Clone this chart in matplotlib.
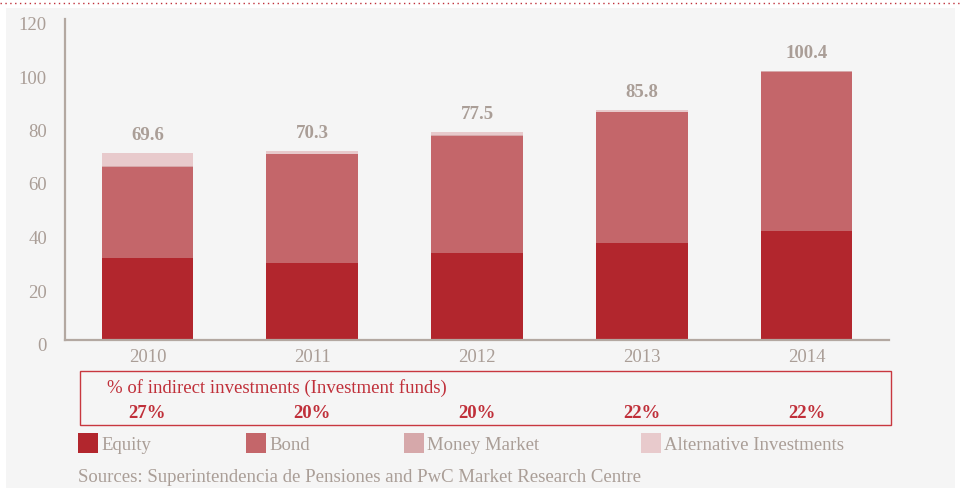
import matplotlib.pyplot as plt
import matplotlib.transforms as mtransforms
from matplotlib.patches import Rectangle
import numpy as np

years = ['2010', '2011', '2012', '2013', '2014']
equity = [30.6, 28.6, 32.3, 36.2, 40.6]
bond = [33.9, 40.7, 43.8, 48.8, 59.4]
money_market = [0.2, 0.2, 0.2, 0.2, 0.2]
alternative = [4.9, 0.8, 1.2, 0.6, 0.2]
totals = ['69.6', '70.3', '77.5', '85.8', '100.4']
indirect_pct = ['27%', '20%', '20%', '22%', '22%']

series_names = ['Equity', 'Bond', 'Money Market', 'Alternative Investments']
colors = ['#b2262d', '#c4666a', '#d6a8aa', '#e8cacc']
gray = '#aa9e97'
red_text = '#c0303a'
fs = 13.5

plt.rcParams['font.family'] = ['Liberation Serif', 'DejaVu Serif']

W, H = 962, 488
fig = plt.figure(figsize=(W / 100, H / 100), dpi=100)
fig.patch.set_facecolor('white')

# grey panel and dotted rule at the top
fig.add_artist(Rectangle((6 / W, 0), (955 - 6) / W, (H - 8) / H,
                         transform=fig.transFigure, facecolor='#f5f5f5',
                         edgecolor='none', zorder=0))
fig.add_artist(plt.Line2D([0, 1], [1 - 3 / H, 1 - 3 / H], transform=fig.transFigure,
                          color='#c0303a', lw=1, linestyle=(0, (1, 2.5))))

ax = fig.add_axes([65 / W, (H - 339.5) / H, (889 - 65) / W, (339.5 - 18.5) / H])
ax.set_facecolor('none')

x = np.arange(len(years))
width = 0.557
bottom = np.zeros(len(years))
for vals, c in zip([equity, bond, money_market, alternative], colors):
    ax.bar(x, vals, width, bottom=bottom, color=c, edgecolor='none', zorder=2)
    bottom += np.array(vals)

for xi, top, lab in zip(x, bottom, totals):
    ax.annotate(lab, (xi, top), xytext=(0, 6.5), textcoords='offset points',
                ha='center', va='bottom', fontsize=fs, fontweight='bold', color=gray)

ax.set_xlim(-0.5, 4.5)
ax.set_ylim(0, 120)
ax.set_yticks(range(0, 121, 20))
ax.set_xticks(x)
ax.set_xticklabels(years)
ax.tick_params(length=0, labelsize=fs, labelcolor=gray)
ax.tick_params(axis='y', pad=13)
ax.tick_params(axis='x', pad=6.5)
for s in ['top', 'right']:
    ax.spines[s].set_visible(False)
for s in ['left', 'bottom']:
    ax.spines[s].set_color('#b3a8a1')
    ax.spines[s].set_linewidth(1.6)

offset = mtransforms.ScaledTranslation(0, -5 / 100, fig.dpi_scale_trans)
for lab in ax.get_yticklabels():
    lab.set_transform(lab.get_transform() + offset)

# box with indirect investment shares
fig.add_artist(Rectangle((80 / W, 1 - 425 / H), (891 - 80) / W, (425 - 371) / H,
                         transform=fig.transFigure, facecolor='none',
                         edgecolor='#c8383f', lw=1))
fig.text(107 / W, 1 - 388 / H, '% of indirect investments (Investment funds)',
         fontsize=fs, color=red_text, va='center', ha='left')
for xi, p in zip(x, indirect_pct):
    xf = ax.transData.transform((xi, 0))[0] / W
    fig.text(xf, 1 - 413 / H, p, fontsize=fs, fontweight='bold', color=red_text,
             ha='center', va='center')

# legend
legend_x = [78, 246, 404, 641]
for lx, name, c in zip(legend_x, series_names, colors):
    fig.add_artist(Rectangle((lx / W, 1 - 453 / H), 20 / W, 20 / H,
                             transform=fig.transFigure, facecolor=c, edgecolor='none'))
    fig.text((lx + 23) / W, 1 - 446 / H, name, fontsize=fs, color=gray,
             va='center', ha='left')

fig.text(78 / W, 1 - 477 / H,
         'Sources: Superintendencia de Pensiones and PwC Market Research Centre',
         fontsize=fs, color=gray, va='center', ha='left')

fig.savefig('out.png', dpi=100)
